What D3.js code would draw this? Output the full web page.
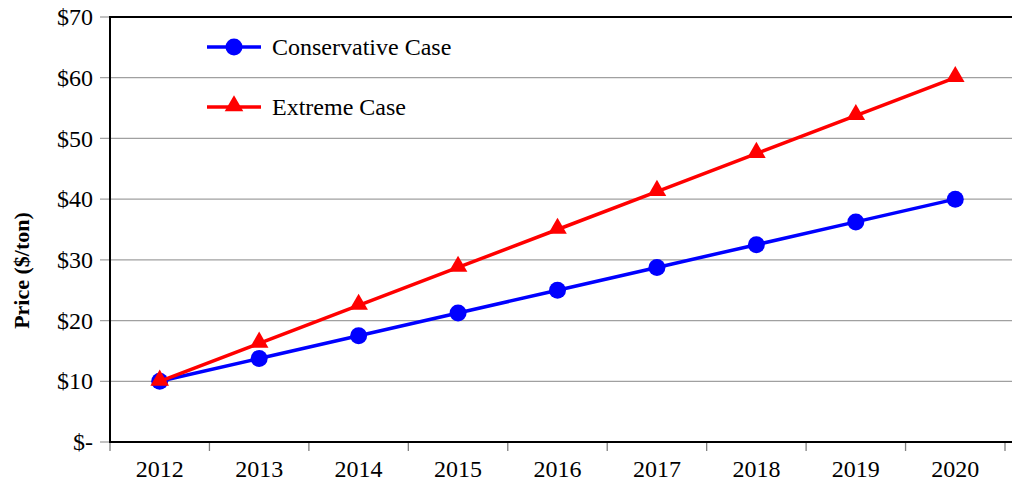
<!DOCTYPE html>
<html><head><meta charset="utf-8">
<script src="https://cdn.jsdelivr.net/npm/d3@7"></script>
<style>body{margin:0;background:#fff}svg{display:block}</style>
</head><body><svg id="c" width="1012" height="481" font-family="'Liberation Serif', 'DejaVu Serif', serif"></svg>
<script>
const years = ["2012","2013","2014","2015","2016","2017","2018","2019","2020"];
const conservative = [10, 13.75, 17.5, 21.25, 25, 28.75, 32.5, 36.25, 40];
const extreme = [10, 16.25, 22.5, 28.75, 35, 41.25, 47.5, 53.75, 60];
const yTicks = [0, 10, 20, 30, 40, 50, 60, 70];
const seriesNames = ["Conservative Case", "Extreme Case"];

const FONT = "'Liberation Serif', 'DejaVu Serif', serif";
const svg = d3.select("#c");
const L = 110, R = 1005, T = 17, B = 442;
const x = d3.scaleBand().domain(years).range([L, R]);
const y = d3.scaleLinear().domain([0, 70]).range([B, T]);

// gridlines
svg.append("g").selectAll("line").data(yTicks.filter(d => d > 0 && d < 70)).join("line")
  .attr("x1", 100).attr("x2", 1012).attr("y1", d => y(d)).attr("y2", d => y(d))
  .attr("stroke", "#a0a0a0").attr("stroke-width", 1.3);
svg.append("g").selectAll("line").data([0, 70]).join("line")
  .attr("x1", 100).attr("x2", L).attr("y1", d => y(d)).attr("y2", d => y(d))
  .attr("stroke", "#a0a0a0").attr("stroke-width", 1.3);
svg.append("line").attr("x1", L).attr("x2", 1012).attr("y1", y(70)).attr("y2", y(70)).attr("stroke", "#000").attr("stroke-width", 2);

// y labels
svg.append("g").selectAll("text").data(yTicks).join("text")
  .attr("x", 93).attr("y", d => y(d)).attr("dy", "0.34em").attr("text-anchor", "end")
  .attr("font-family", FONT).attr("font-size", 24).attr("fill", "#000")
  .text(d => d === 0 ? "$-" : "$" + d);

// bottom ticks
const tickXs = years.map(d => x(d)).concat([R]);
svg.append("g").selectAll("line").data(tickXs).join("line")
  .attr("x1", d => d).attr("x2", d => d).attr("y1", B).attr("y2", B + 9)
  .attr("stroke", "#808080").attr("stroke-width", 1.3);
svg.append("g").selectAll("text").data(years).join("text")
  .attr("x", d => x(d) + x.bandwidth() / 2).attr("y", 477).attr("text-anchor", "middle")
  .attr("font-family", FONT).attr("font-size", 24).attr("fill", "#000").text(d => d);

// axes lines
svg.append("line").attr("x1", L).attr("x2", 1012).attr("y1", B).attr("y2", B).attr("stroke", "#000").attr("stroke-width", 2);
svg.append("line").attr("x1", L).attr("x2", L).attr("y1", T - 1).attr("y2", B + 1).attr("stroke", "#000").attr("stroke-width", 2);

// y title
svg.append("text").attr("transform", `translate(29,${(T + B) / 2 + 41}) rotate(-90)`)
  .attr("text-anchor", "middle").attr("font-family", FONT).attr("font-size", 22).attr("font-weight", "bold").text("Price ($/ton)");

const cx = (d, i) => x(years[i]) + x.bandwidth() / 2;
const line = d3.line().x(cx).y(d => y(d));
const tri = d3.symbol().type(d3.symbolTriangle).size(150);

svg.append("path").datum(conservative).attr("d", line).attr("fill", "none").attr("stroke", "#0000ff").attr("stroke-width", 3.5);
svg.append("g").selectAll("circle").data(conservative).join("circle")
  .attr("cx", cx).attr("cy", d => y(d)).attr("r", 8.5).attr("fill", "#0000ff");
svg.append("path").datum(extreme).attr("d", line).attr("fill", "none").attr("stroke", "#ff0000").attr("stroke-width", 3.5);
svg.append("g").selectAll("path.t").data(extreme).join("path").attr("class", "t")
  .attr("d", tri).attr("transform", (d, i) => `translate(${cx(d, i)},${y(d) - 1})`).attr("fill", "#ff0000");

// legend
const lg = svg.append("g");
const ly = [47, 107];
const colors = ["#0000ff", "#ff0000"];
seriesNames.forEach((n, i) => {
  lg.append("line").attr("x1", 207).attr("x2", 261).attr("y1", ly[i]).attr("y2", ly[i]).attr("stroke", colors[i]).attr("stroke-width", 3.5);
  if (i === 0) lg.append("circle").attr("cx", 234).attr("cy", ly[i]).attr("r", 8.5).attr("fill", colors[i]);
  else lg.append("path").attr("d", tri).attr("transform", `translate(234,${ly[i] - 1})`).attr("fill", colors[i]);
  lg.append("text").attr("x", 272).attr("y", ly[i]).attr("dy", "0.34em").attr("font-family", FONT).attr("font-size", 24).text(n);
});
</script></body></html>
